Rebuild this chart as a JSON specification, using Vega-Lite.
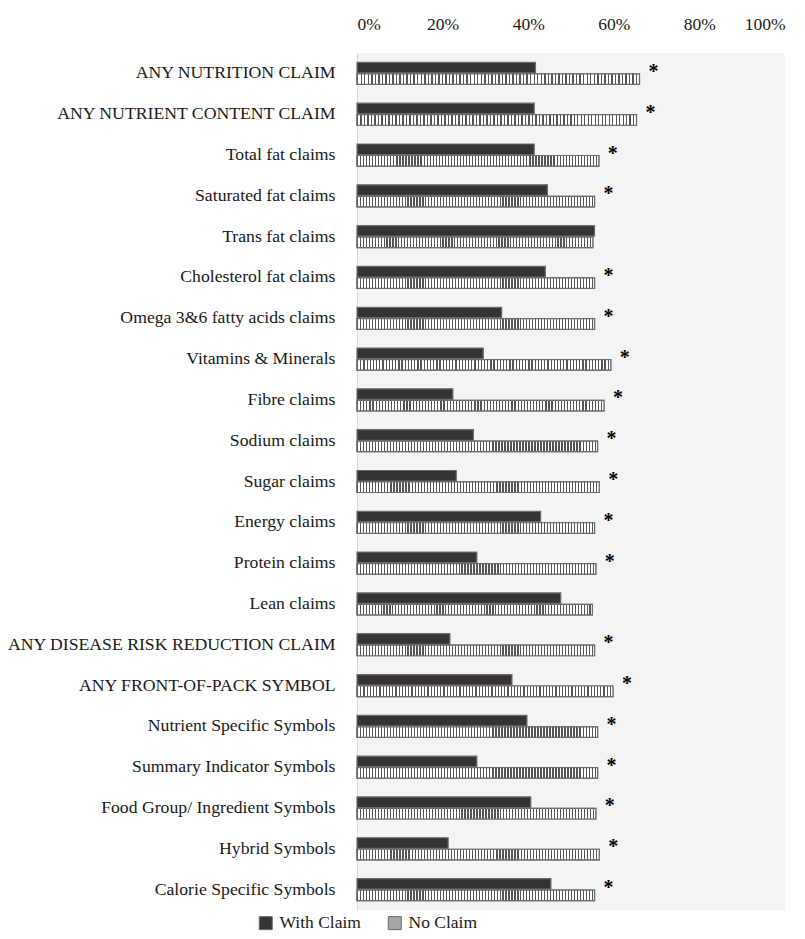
{
  "$schema": "https://vega.github.io/schema/vega-lite/v6.json",
  "width": 428,
  "height": 857,
  "autosize": {"type": "none"},
  "padding": {"left": 357, "top": 53, "right": 20, "bottom": 29},
  "background": "white",
  "config": {"view": {"fill": "#f4f4f4", "stroke": null}, "font": "Liberation Serif", "style": {"guide-label": {"font": "Liberation Serif"}}, "legend": {"labelFont": "Liberation Serif", "labelFontSize": 17.5, "labelColor": "#1a1a1a"}},
  "data": {"values": [
    {"category": "ANY NUTRITION CLAIM", "With Claim": 41.7, "No Claim": 66.0, "star": "*"},
    {"category": "ANY NUTRIENT CONTENT CLAIM", "With Claim": 41.4, "No Claim": 65.3, "star": "*"},
    {"category": "Total fat claims", "With Claim": 41.4, "No Claim": 56.5, "star": "*"},
    {"category": "Saturated fat claims", "With Claim": 44.5, "No Claim": 55.5, "star": "*"},
    {"category": "Trans fat claims", "With Claim": 55.5, "No Claim": 55.1, "star": ""},
    {"category": "Cholesterol fat claims", "With Claim": 44.0, "No Claim": 55.5, "star": "*"},
    {"category": "Omega 3&6 fatty acids claims", "With Claim": 33.8, "No Claim": 55.5, "star": "*"},
    {"category": "Vitamins & Minerals", "With Claim": 29.5, "No Claim": 59.3, "star": "*"},
    {"category": "Fibre claims", "With Claim": 22.4, "No Claim": 57.7, "star": "*"},
    {"category": "Sodium claims", "With Claim": 27.2, "No Claim": 56.2, "star": "*"},
    {"category": "Sugar claims", "With Claim": 23.2, "No Claim": 56.6, "star": "*"},
    {"category": "Energy claims", "With Claim": 42.9, "No Claim": 55.5, "star": "*"},
    {"category": "Protein claims", "With Claim": 28.0, "No Claim": 55.8, "star": "*"},
    {"category": "Lean claims", "With Claim": 47.6, "No Claim": 55.0, "star": ""},
    {"category": "ANY DISEASE RISK REDUCTION CLAIM", "With Claim": 21.7, "No Claim": 55.5, "star": "*"},
    {"category": "ANY FRONT-OF-PACK SYMBOL", "With Claim": 36.2, "No Claim": 59.8, "star": "*"},
    {"category": "Nutrient Specific Symbols", "With Claim": 39.7, "No Claim": 56.2, "star": "*"},
    {"category": "Summary Indicator Symbols", "With Claim": 28.0, "No Claim": 56.2, "star": "*"},
    {"category": "Food Group/ Ingredient Symbols", "With Claim": 40.6, "No Claim": 55.8, "star": "*"},
    {"category": "Hybrid Symbols", "With Claim": 21.3, "No Claim": 56.6, "star": "*"},
    {"category": "Calorie Specific Symbols", "With Claim": 45.3, "No Claim": 55.5, "star": "*"}
  ]},
  "layer": [
    {
      "transform": [{"fold": ["With Claim", "No Claim"], "as": ["series", "value"]}],
      "mark": {"type": "bar", "stroke": "#6b6b6b", "strokeWidth": 1.2},
      "encoding": {
        "y": {"field": "category", "type": "nominal", "sort": null,
          "scale": {"paddingInner": 0.46, "paddingOuter": 0.23},
          "axis": {"title": null, "ticks": false, "domainColor": "#d9d9d9", "labelFont": "Liberation Serif", "labelFontSize": 17.7, "labelColor": "#1a1a1a", "labelPadding": 22, "labelLimit": 400}},
        "yOffset": {"field": "series", "type": "nominal", "sort": ["With Claim", "No Claim"],
          "scale": {"domain": ["With Claim", "No Claim"], "paddingInner": 0.08}},
        "x": {"field": "value", "type": "quantitative", "scale": {"domain": [0, 100], "nice": false},
          "axis": {"orient": "top", "title": null, "values": [0, 20, 40, 60, 80, 100], "labelExpr": "datum.value + '%'", "ticks": false, "domain": false, "grid": false, "labelFont": "Liberation Serif", "labelFontSize": 17.5, "labelPadding": 20, "labelColor": "#1a1a1a"}},
        "fill": {"field": "series", "type": "nominal",
          "scale": {"domain": ["With Claim", "No Claim"], "range": ["#373333", "#a6a6a6"]},
          "legend": {"title": null, "orient": "none", "legendX": -100, "legendY": 861, "direction": "horizontal", "symbolType": "square", "symbolSize": 169, "symbolStrokeColor": "#6b6b6b", "symbolStrokeWidth": 1, "labelFont": "Liberation Serif", "labelFontSize": 17.5, "labelColor": "#1a1a1a", "columnPadding": 25, "labelOffset": 5,
            "encode": {
              "labels": {"update": {"font": {"value": "Liberation Serif"}, "fontSize": {"value": 17.5}}}
            }}}
      }
    },
    {
      "transform": [{"fold": ["With Claim", "No Claim"], "as": ["series", "value"]}, {"filter": "datum.series === 'No Claim'"}],
      "mark": {"type": "bar", "stroke": "#6b6b6b", "strokeWidth": 1.2, "fill": {"gradient": "linear", "x1": 0, "y1": 0, "x2": 1, "y2": 0, "stops": [
{"offset":0,"color":"#555"},{"offset":0.005,"color":"#555"},{"offset":0.005,"color":"#fff"},{"offset":0.0125,"color":"#fff"},
{"offset":0.0125,"color":"#555"},{"offset":0.0175,"color":"#555"},{"offset":0.0175,"color":"#fff"},{"offset":0.025,"color":"#fff"},
{"offset":0.025,"color":"#555"},{"offset":0.03,"color":"#555"},{"offset":0.03,"color":"#fff"},{"offset":0.0375,"color":"#fff"},
{"offset":0.0375,"color":"#555"},{"offset":0.0425,"color":"#555"},{"offset":0.0425,"color":"#fff"},{"offset":0.05,"color":"#fff"},
{"offset":0.05,"color":"#555"},{"offset":0.055,"color":"#555"},{"offset":0.055,"color":"#fff"},{"offset":0.0625,"color":"#fff"},
{"offset":0.0625,"color":"#555"},{"offset":0.0675,"color":"#555"},{"offset":0.0675,"color":"#fff"},{"offset":0.075,"color":"#fff"},
{"offset":0.075,"color":"#555"},{"offset":0.08,"color":"#555"},{"offset":0.08,"color":"#fff"},{"offset":0.0875,"color":"#fff"},
{"offset":0.0875,"color":"#555"},{"offset":0.0925,"color":"#555"},{"offset":0.0925,"color":"#fff"},{"offset":0.1,"color":"#fff"},
{"offset":0.1,"color":"#555"},{"offset":0.105,"color":"#555"},{"offset":0.105,"color":"#fff"},{"offset":0.1125,"color":"#fff"},
{"offset":0.1125,"color":"#555"},{"offset":0.1175,"color":"#555"},{"offset":0.1175,"color":"#fff"},{"offset":0.125,"color":"#fff"},
{"offset":0.125,"color":"#555"},{"offset":0.13,"color":"#555"},{"offset":0.13,"color":"#fff"},{"offset":0.1375,"color":"#fff"},
{"offset":0.1375,"color":"#555"},{"offset":0.1425,"color":"#555"},{"offset":0.1425,"color":"#fff"},{"offset":0.15,"color":"#fff"},
{"offset":0.15,"color":"#555"},{"offset":0.155,"color":"#555"},{"offset":0.155,"color":"#fff"},{"offset":0.1625,"color":"#fff"},
{"offset":0.1625,"color":"#555"},{"offset":0.1675,"color":"#555"},{"offset":0.1675,"color":"#fff"},{"offset":0.175,"color":"#fff"},
{"offset":0.175,"color":"#555"},{"offset":0.18,"color":"#555"},{"offset":0.18,"color":"#fff"},{"offset":0.1875,"color":"#fff"},
{"offset":0.1875,"color":"#555"},{"offset":0.1925,"color":"#555"},{"offset":0.1925,"color":"#fff"},{"offset":0.2,"color":"#fff"},
{"offset":0.2,"color":"#555"},{"offset":0.205,"color":"#555"},{"offset":0.205,"color":"#fff"},{"offset":0.2125,"color":"#fff"},
{"offset":0.2125,"color":"#555"},{"offset":0.2175,"color":"#555"},{"offset":0.2175,"color":"#fff"},{"offset":0.225,"color":"#fff"},
{"offset":0.225,"color":"#555"},{"offset":0.23,"color":"#555"},{"offset":0.23,"color":"#fff"},{"offset":0.2375,"color":"#fff"},
{"offset":0.2375,"color":"#555"},{"offset":0.2425,"color":"#555"},{"offset":0.2425,"color":"#fff"},{"offset":0.25,"color":"#fff"},
{"offset":0.25,"color":"#555"},{"offset":0.255,"color":"#555"},{"offset":0.255,"color":"#fff"},{"offset":0.2625,"color":"#fff"},
{"offset":0.2625,"color":"#555"},{"offset":0.2675,"color":"#555"},{"offset":0.2675,"color":"#fff"},{"offset":0.275,"color":"#fff"},
{"offset":0.275,"color":"#555"},{"offset":0.28,"color":"#555"},{"offset":0.28,"color":"#fff"},{"offset":0.2875,"color":"#fff"},
{"offset":0.2875,"color":"#555"},{"offset":0.2925,"color":"#555"},{"offset":0.2925,"color":"#fff"},{"offset":0.3,"color":"#fff"},
{"offset":0.3,"color":"#555"},{"offset":0.305,"color":"#555"},{"offset":0.305,"color":"#fff"},{"offset":0.3125,"color":"#fff"},
{"offset":0.3125,"color":"#555"},{"offset":0.3175,"color":"#555"},{"offset":0.3175,"color":"#fff"},{"offset":0.325,"color":"#fff"},
{"offset":0.325,"color":"#555"},{"offset":0.33,"color":"#555"},{"offset":0.33,"color":"#fff"},{"offset":0.3375,"color":"#fff"},
{"offset":0.3375,"color":"#555"},{"offset":0.3425,"color":"#555"},{"offset":0.3425,"color":"#fff"},{"offset":0.35,"color":"#fff"},
{"offset":0.35,"color":"#555"},{"offset":0.355,"color":"#555"},{"offset":0.355,"color":"#fff"},{"offset":0.3625,"color":"#fff"},
{"offset":0.3625,"color":"#555"},{"offset":0.3675,"color":"#555"},{"offset":0.3675,"color":"#fff"},{"offset":0.375,"color":"#fff"},
{"offset":0.375,"color":"#555"},{"offset":0.38,"color":"#555"},{"offset":0.38,"color":"#fff"},{"offset":0.3875,"color":"#fff"},
{"offset":0.3875,"color":"#555"},{"offset":0.3925,"color":"#555"},{"offset":0.3925,"color":"#fff"},{"offset":0.4,"color":"#fff"},
{"offset":0.4,"color":"#555"},{"offset":0.405,"color":"#555"},{"offset":0.405,"color":"#fff"},{"offset":0.4125,"color":"#fff"},
{"offset":0.4125,"color":"#555"},{"offset":0.4175,"color":"#555"},{"offset":0.4175,"color":"#fff"},{"offset":0.425,"color":"#fff"},
{"offset":0.425,"color":"#555"},{"offset":0.43,"color":"#555"},{"offset":0.43,"color":"#fff"},{"offset":0.4375,"color":"#fff"},
{"offset":0.4375,"color":"#555"},{"offset":0.4425,"color":"#555"},{"offset":0.4425,"color":"#fff"},{"offset":0.45,"color":"#fff"},
{"offset":0.45,"color":"#555"},{"offset":0.455,"color":"#555"},{"offset":0.455,"color":"#fff"},{"offset":0.4625,"color":"#fff"},
{"offset":0.4625,"color":"#555"},{"offset":0.4675,"color":"#555"},{"offset":0.4675,"color":"#fff"},{"offset":0.475,"color":"#fff"},
{"offset":0.475,"color":"#555"},{"offset":0.48,"color":"#555"},{"offset":0.48,"color":"#fff"},{"offset":0.4875,"color":"#fff"},
{"offset":0.4875,"color":"#555"},{"offset":0.4925,"color":"#555"},{"offset":0.4925,"color":"#fff"},{"offset":0.5,"color":"#fff"},
{"offset":0.5,"color":"#555"},{"offset":0.505,"color":"#555"},{"offset":0.505,"color":"#fff"},{"offset":0.5125,"color":"#fff"},
{"offset":0.5125,"color":"#555"},{"offset":0.5175,"color":"#555"},{"offset":0.5175,"color":"#fff"},{"offset":0.525,"color":"#fff"},
{"offset":0.525,"color":"#555"},{"offset":0.53,"color":"#555"},{"offset":0.53,"color":"#fff"},{"offset":0.5375,"color":"#fff"},
{"offset":0.5375,"color":"#555"},{"offset":0.5425,"color":"#555"},{"offset":0.5425,"color":"#fff"},{"offset":0.55,"color":"#fff"},
{"offset":0.55,"color":"#555"},{"offset":0.555,"color":"#555"},{"offset":0.555,"color":"#fff"},{"offset":0.5625,"color":"#fff"},
{"offset":0.5625,"color":"#555"},{"offset":0.5675,"color":"#555"},{"offset":0.5675,"color":"#fff"},{"offset":0.575,"color":"#fff"},
{"offset":0.575,"color":"#555"},{"offset":0.58,"color":"#555"},{"offset":0.58,"color":"#fff"},{"offset":0.5875,"color":"#fff"},
{"offset":0.5875,"color":"#555"},{"offset":0.5925,"color":"#555"},{"offset":0.5925,"color":"#fff"},{"offset":0.6,"color":"#fff"},
{"offset":0.6,"color":"#555"},{"offset":0.605,"color":"#555"},{"offset":0.605,"color":"#fff"},{"offset":0.6125,"color":"#fff"},
{"offset":0.6125,"color":"#555"},{"offset":0.6175,"color":"#555"},{"offset":0.6175,"color":"#fff"},{"offset":0.625,"color":"#fff"},
{"offset":0.625,"color":"#555"},{"offset":0.63,"color":"#555"},{"offset":0.63,"color":"#fff"},{"offset":0.6375,"color":"#fff"},
{"offset":0.6375,"color":"#555"},{"offset":0.6425,"color":"#555"},{"offset":0.6425,"color":"#fff"},{"offset":0.65,"color":"#fff"},
{"offset":0.65,"color":"#555"},{"offset":0.655,"color":"#555"},{"offset":0.655,"color":"#fff"},{"offset":0.6625,"color":"#fff"},
{"offset":0.6625,"color":"#555"},{"offset":0.6675,"color":"#555"},{"offset":0.6675,"color":"#fff"},{"offset":0.675,"color":"#fff"},
{"offset":0.675,"color":"#555"},{"offset":0.68,"color":"#555"},{"offset":0.68,"color":"#fff"},{"offset":0.6875,"color":"#fff"},
{"offset":0.6875,"color":"#555"},{"offset":0.6925,"color":"#555"},{"offset":0.6925,"color":"#fff"},{"offset":0.7,"color":"#fff"},
{"offset":0.7,"color":"#555"},{"offset":0.705,"color":"#555"},{"offset":0.705,"color":"#fff"},{"offset":0.7125,"color":"#fff"},
{"offset":0.7125,"color":"#555"},{"offset":0.7175,"color":"#555"},{"offset":0.7175,"color":"#fff"},{"offset":0.725,"color":"#fff"},
{"offset":0.725,"color":"#555"},{"offset":0.73,"color":"#555"},{"offset":0.73,"color":"#fff"},{"offset":0.7375,"color":"#fff"},
{"offset":0.7375,"color":"#555"},{"offset":0.7425,"color":"#555"},{"offset":0.7425,"color":"#fff"},{"offset":0.75,"color":"#fff"},
{"offset":0.75,"color":"#555"},{"offset":0.755,"color":"#555"},{"offset":0.755,"color":"#fff"},{"offset":0.7625,"color":"#fff"},
{"offset":0.7625,"color":"#555"},{"offset":0.7675,"color":"#555"},{"offset":0.7675,"color":"#fff"},{"offset":0.775,"color":"#fff"},
{"offset":0.775,"color":"#555"},{"offset":0.78,"color":"#555"},{"offset":0.78,"color":"#fff"},{"offset":0.7875,"color":"#fff"},
{"offset":0.7875,"color":"#555"},{"offset":0.7925,"color":"#555"},{"offset":0.7925,"color":"#fff"},{"offset":0.8,"color":"#fff"},
{"offset":0.8,"color":"#555"},{"offset":0.805,"color":"#555"},{"offset":0.805,"color":"#fff"},{"offset":0.8125,"color":"#fff"},
{"offset":0.8125,"color":"#555"},{"offset":0.8175,"color":"#555"},{"offset":0.8175,"color":"#fff"},{"offset":0.825,"color":"#fff"},
{"offset":0.825,"color":"#555"},{"offset":0.83,"color":"#555"},{"offset":0.83,"color":"#fff"},{"offset":0.8375,"color":"#fff"},
{"offset":0.8375,"color":"#555"},{"offset":0.8425,"color":"#555"},{"offset":0.8425,"color":"#fff"},{"offset":0.85,"color":"#fff"},
{"offset":0.85,"color":"#555"},{"offset":0.855,"color":"#555"},{"offset":0.855,"color":"#fff"},{"offset":0.8625,"color":"#fff"},
{"offset":0.8625,"color":"#555"},{"offset":0.8675,"color":"#555"},{"offset":0.8675,"color":"#fff"},{"offset":0.875,"color":"#fff"},
{"offset":0.875,"color":"#555"},{"offset":0.88,"color":"#555"},{"offset":0.88,"color":"#fff"},{"offset":0.8875,"color":"#fff"},
{"offset":0.8875,"color":"#555"},{"offset":0.8925,"color":"#555"},{"offset":0.8925,"color":"#fff"},{"offset":0.9,"color":"#fff"},
{"offset":0.9,"color":"#555"},{"offset":0.905,"color":"#555"},{"offset":0.905,"color":"#fff"},{"offset":0.9125,"color":"#fff"},
{"offset":0.9125,"color":"#555"},{"offset":0.9175,"color":"#555"},{"offset":0.9175,"color":"#fff"},{"offset":0.925,"color":"#fff"},
{"offset":0.925,"color":"#555"},{"offset":0.93,"color":"#555"},{"offset":0.93,"color":"#fff"},{"offset":0.9375,"color":"#fff"},
{"offset":0.9375,"color":"#555"},{"offset":0.9425,"color":"#555"},{"offset":0.9425,"color":"#fff"},{"offset":0.95,"color":"#fff"},
{"offset":0.95,"color":"#555"},{"offset":0.955,"color":"#555"},{"offset":0.955,"color":"#fff"},{"offset":0.9625,"color":"#fff"},
{"offset":0.9625,"color":"#555"},{"offset":0.9675,"color":"#555"},{"offset":0.9675,"color":"#fff"},{"offset":0.975,"color":"#fff"},
{"offset":0.975,"color":"#555"},{"offset":0.98,"color":"#555"},{"offset":0.98,"color":"#fff"},{"offset":0.9875,"color":"#fff"},
{"offset":0.9875,"color":"#555"},{"offset":0.9925,"color":"#555"},{"offset":0.9925,"color":"#fff"},{"offset":1,"color":"#fff"}
      ]}},
      "encoding": {
        "y": {"field": "category", "type": "nominal", "sort": null},
        "yOffset": {"field": "series", "type": "nominal", "sort": ["With Claim", "No Claim"]},
        "x": {"field": "value", "type": "quantitative"}
      }
    },
    {
      "mark": {"type": "text", "align": "center", "baseline": "alphabetic", "dx": 14, "dy": 4.5, "fontSize": 20, "fontWeight": "bold", "font": "Liberation Serif", "color": "#000"},
      "encoding": {
        "y": {"field": "category", "type": "nominal", "sort": null},
        "x": {"field": "No Claim", "type": "quantitative"},
        "text": {"field": "star", "type": "nominal"}
      }
    }
  ]
}
